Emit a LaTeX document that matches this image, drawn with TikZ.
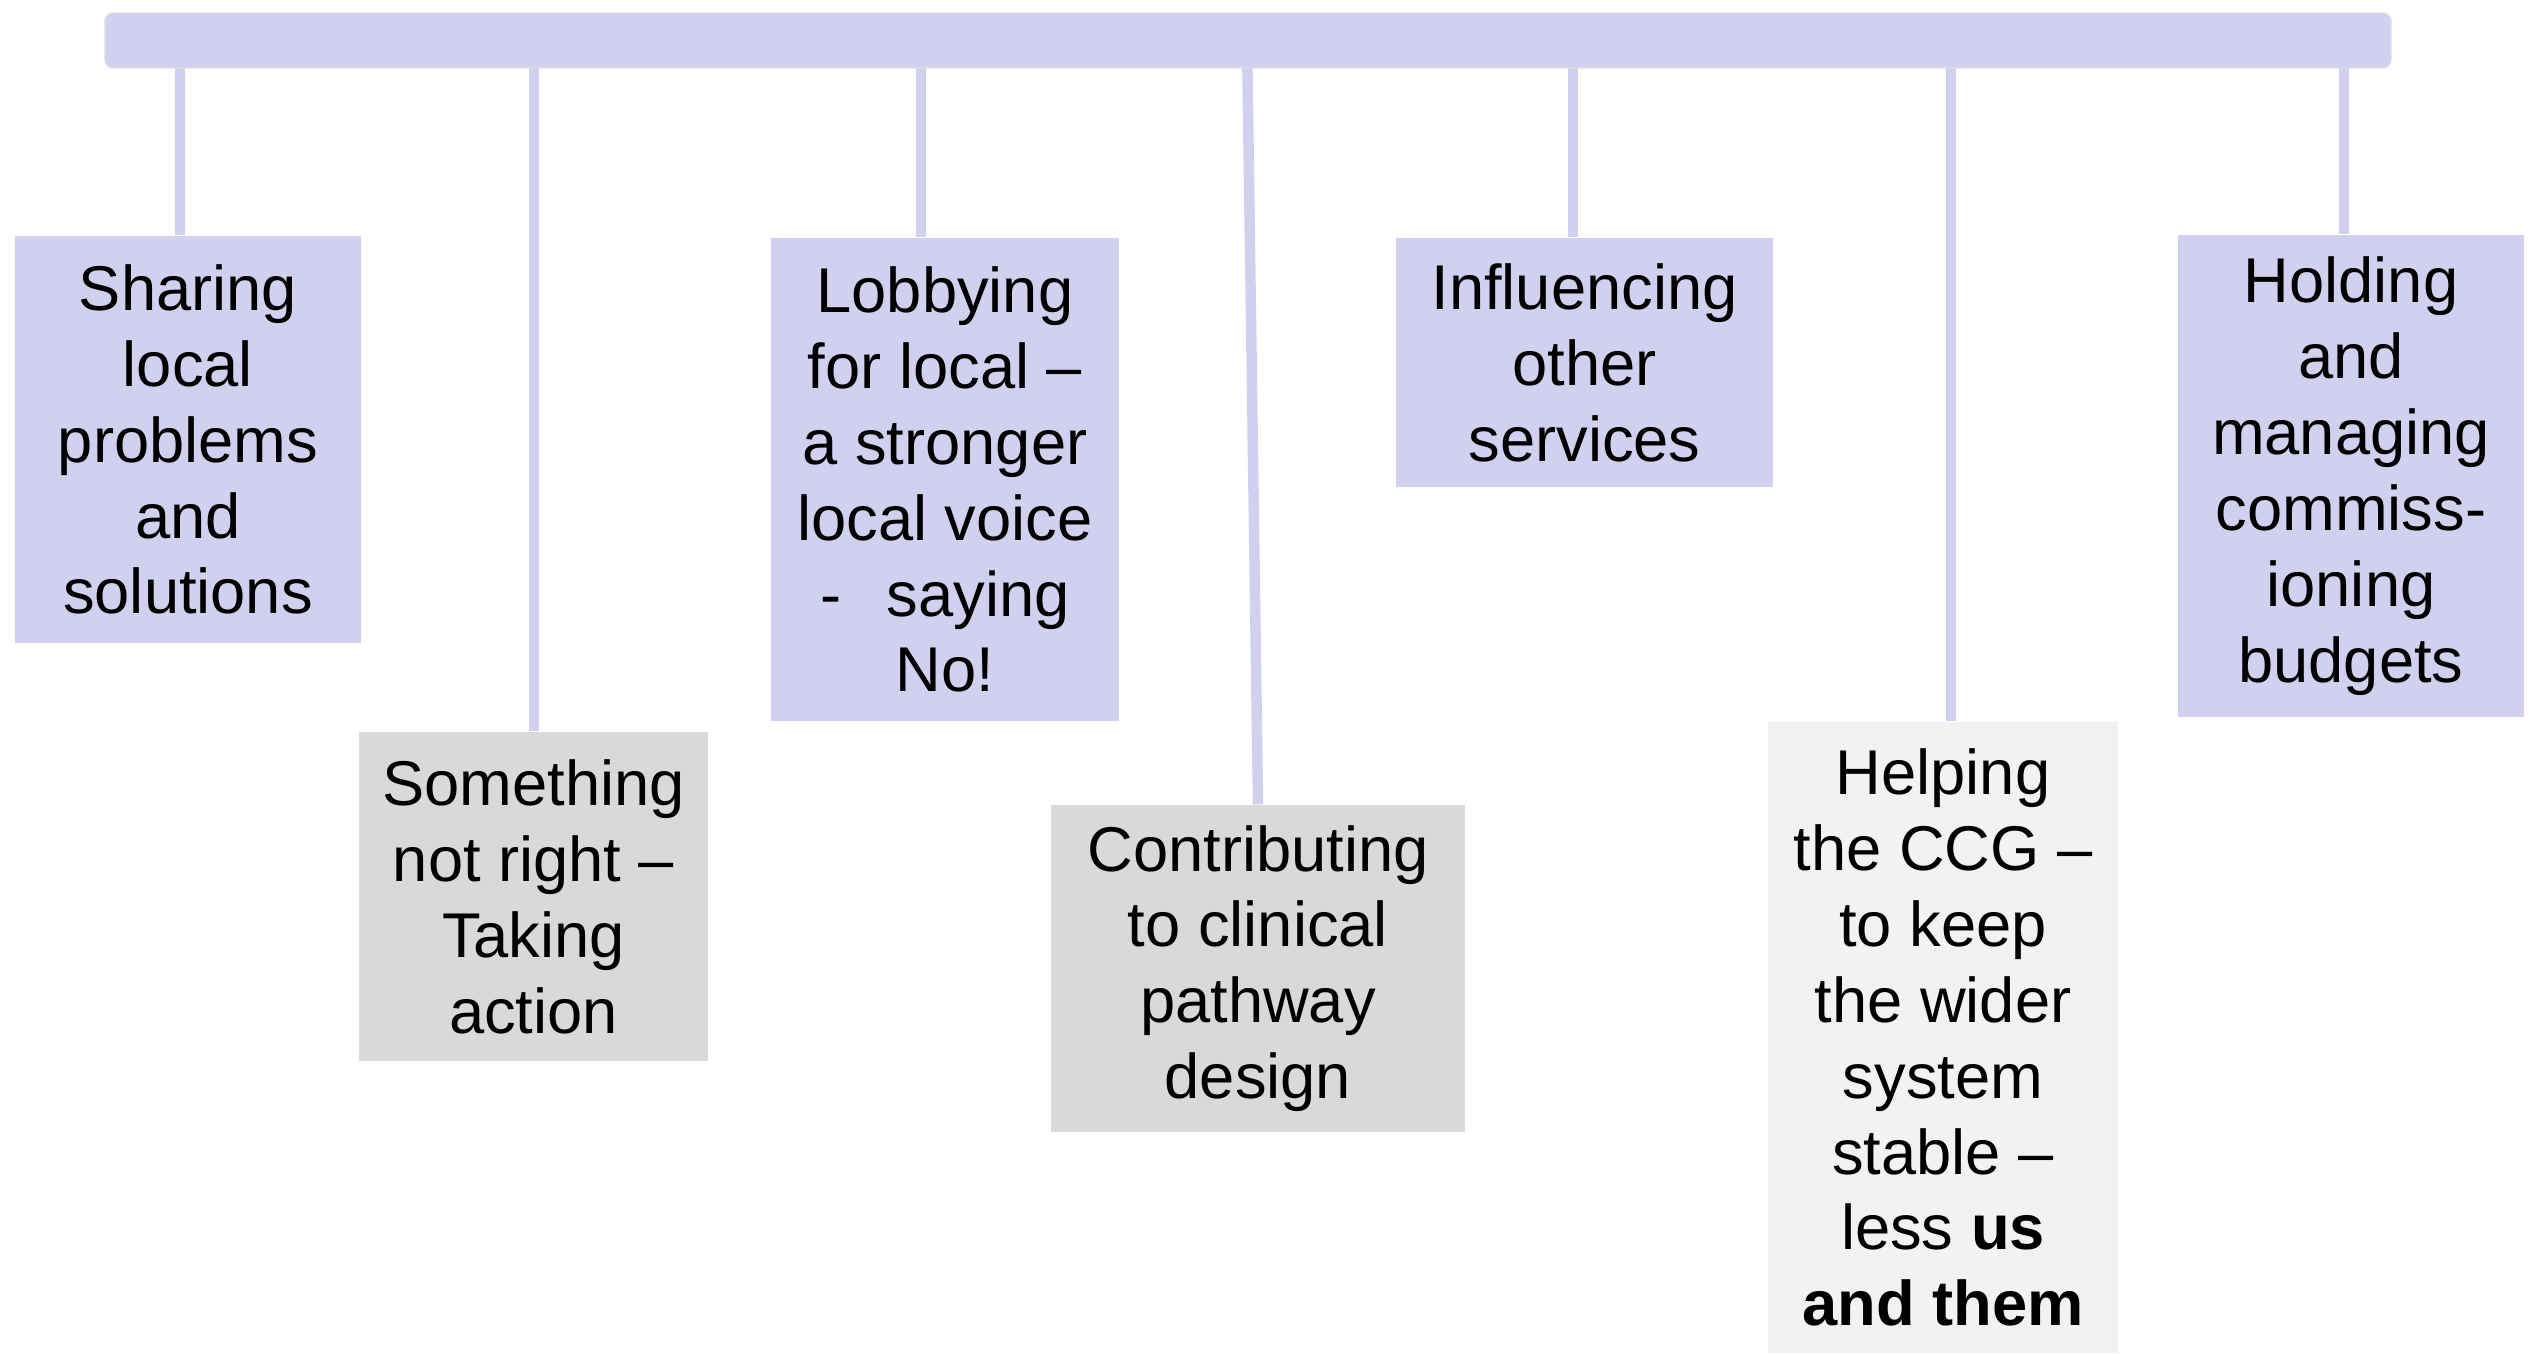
\documentclass[tikz,border=0pt]{standalone}
\usepackage{fontspec}
\setmainfont{Liberation Sans}
\definecolor{lav}{RGB}{209,209,239}
\definecolor{gbox}{RGB}{217,217,217}
\definecolor{lbox}{RGB}{242,242,242}
\tikzset{
  box/.style={inner sep=0pt, align=center, font=\fontsize{18}{21.6}\selectfont},
  conn/.style={draw=lav, line width=0.105cm},
}
\begin{document}
\begin{tikzpicture}
\useasboundingbox (0,0) rectangle (25.39,-13.53);
\fill[white] (0,0) rectangle (25.39,-13.53);
% boxes
\node[box, fill=lav, minimum width=3.46cm, minimum height=4.07cm] (b1) at (1.88,-4.395)
  {Sharing\\local\\problems\\and\\solutions};
\node[box, fill=gbox, minimum width=3.49cm, minimum height=3.29cm] (b2) at (5.335,-8.965)
  {Something\\not right --\\Taking\\action};
\node[box, fill=lav, minimum width=3.48cm, minimum height=4.83cm] (b3) at (9.45,-4.795)
  {Lobbying\\for local --\\a stronger\\local voice\\-\hspace{0.45cm}saying\\No!};
\node[box, fill=gbox, minimum width=4.14cm, minimum height=3.27cm] (b4) at (12.58,-9.685)
  {Contributing\\to clinical\\pathway\\design};
\node[box, fill=lbox, minimum width=3.50cm, minimum height=6.31cm] (b6) at (19.43,-10.375)
  {Helping\\the CCG --\\to keep\\the wider\\system\\stable --\\less \textbf{us}\\\textbf{and them}};
\node[box, fill=lav, minimum width=3.77cm, minimum height=2.49cm] (b5) at (15.845,-3.625)
  {Influencing\\other\\services};
\node[box, fill=lav, minimum width=3.46cm, minimum height=4.82cm] (b7) at (23.51,-4.76)
  {Holding\\and\\managing\\commiss-\\ioning\\budgets};
% connector top ends
\coordinate (t1) at (1.80,-0.40);
\coordinate (t2) at (5.34,-0.40);
\coordinate (t3) at (9.21,-0.40);
\coordinate (t4) at (12.47,-0.40);
\coordinate (t5) at (15.73,-0.40);
\coordinate (t6) at (19.51,-0.40);
\coordinate (t7) at (23.44,-0.40);
\draw[conn] (t1) -- (t1 |- b1.north);
\draw[conn] (t2) -- (t2 |- b2.north);
\draw[conn] (t3) -- (t3 |- b3.north);
\draw[conn] (t4) -- (b4.north);
\draw[conn] (t5) -- (t5 |- b5.north);
\draw[conn] (t6) -- (t6 |- b6.north);
\draw[conn] (t7) -- (t7 |- b7.north);
% top bar
\node[fill=lav, draw=black!12, line width=0.4pt, rounded corners=0.08cm, minimum width=22.86cm, minimum height=0.55cm, inner sep=0pt] (bar) at (12.48,-0.405) {};
\end{tikzpicture}
\end{document}
